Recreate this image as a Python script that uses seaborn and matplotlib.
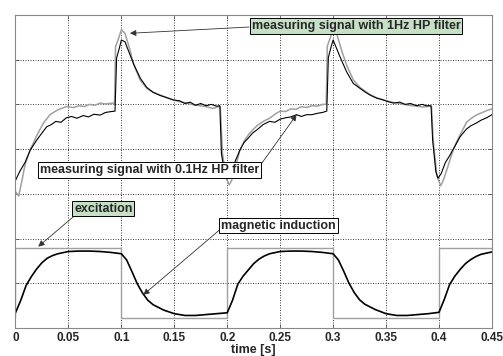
import matplotlib
matplotlib.use("Agg")
import matplotlib.pyplot as plt
import seaborn as sns
import pandas as pd

# ---------------- data ----------------
# excitation (square wave)
exc_t = [0.0, 0.0, 0.1, 0.1, 0.2, 0.2, 0.3, 0.3, 0.4, 0.4, 0.45]
exc_v = [0.23, 1.78, 1.78, 0.23, 0.23, 1.78, 1.78, 0.23, 0.23, 1.78, 1.78]

# magnetic induction
ind_t = [0.000, 0.005, 0.010, 0.015, 0.020, 0.025, 0.030, 0.035, 0.040, 0.050,
         0.060, 0.070, 0.080, 0.090, 0.100, 0.105, 0.110, 0.115, 0.120, 0.125,
         0.130, 0.140, 0.150, 0.160, 0.170, 0.180, 0.190, 0.200,
         0.205, 0.210, 0.215, 0.220, 0.225, 0.230, 0.235, 0.240, 0.250,
         0.260, 0.270, 0.280, 0.290, 0.300, 0.305, 0.310, 0.315, 0.320, 0.325,
         0.330, 0.340, 0.350, 0.360, 0.370, 0.380, 0.390, 0.400,
         0.405, 0.410, 0.415, 0.420, 0.425, 0.430, 0.435, 0.440, 0.450]
ind_v = [0.34, 0.62, 0.95, 1.15, 1.32, 1.46, 1.56, 1.62, 1.66, 1.71,
         1.72, 1.72, 1.71, 1.69, 1.66, 1.52, 1.26, 0.99, 0.78, 0.62,
         0.52, 0.40, 0.32, 0.28, 0.28, 0.30, 0.32, 0.34,
         0.62, 0.98, 1.16, 1.30, 1.44, 1.54, 1.61, 1.66, 1.71,
         1.72, 1.72, 1.71, 1.69, 1.66, 1.52, 1.27, 1.00, 0.79, 0.63,
         0.53, 0.41, 0.32, 0.28, 0.28, 0.30, 0.32, 0.35,
         0.64, 0.97, 1.16, 1.31, 1.44, 1.53, 1.60, 1.65, 1.70]

# measuring signal with 1Hz HP filter (grey)
hp1_t = [0.000, 0.003, 0.006, 0.009, 0.0137, 0.0168, 0.020, 0.0263, 0.0326, 0.040,
         0.048, 0.055, 0.060, 0.065, 0.070, 0.075, 0.080, 0.085, 0.092, 0.0935,
         0.0945, 0.097, 0.100, 0.1034, 0.1081, 0.1112, 0.1176, 0.1239, 0.1300, 0.1365,
         0.1430, 0.149, 0.155, 0.1617, 0.168, 0.1742, 0.180, 0.1868, 0.1915, 0.1935,
         0.1955, 0.199, 0.2019, 0.2045, 0.208, 0.212, 0.216, 0.220, 0.224, 0.228,
         0.234, 0.240, 0.245, 0.250, 0.255, 0.260, 0.265, 0.270, 0.275, 0.280,
         0.285, 0.290, 0.2935, 0.2945, 0.297, 0.300, 0.3034, 0.3081, 0.3127, 0.319,
         0.3253, 0.3300, 0.3348, 0.341, 0.3473, 0.355, 0.363, 0.371, 0.379, 0.385,
         0.3915, 0.393, 0.3945, 0.398, 0.4015, 0.404, 0.408, 0.413, 0.417, 0.420,
         0.426, 0.430, 0.435, 0.440, 0.445, 0.450]
hp1_v = [3.05, 2.95, 3.28, 3.65, 3.98, 4.13, 4.30, 4.58, 4.77, 4.88,
         4.95, 4.93, 4.97, 4.95, 5.00, 4.98, 5.03, 5.01, 5.03, 5.00,
         6.29, 6.45, 6.67, 6.59, 6.22, 5.92, 5.55, 5.36, 5.27, 5.21,
         5.15, 5.10, 5.06, 5.03, 4.99, 4.97, 4.95, 4.91, 4.95, 4.94,
         3.90, 3.35, 3.20, 3.32, 3.62, 3.98, 4.18, 4.32, 4.43, 4.52,
         4.62, 4.69, 4.78, 4.85, 4.84, 4.90, 4.89, 4.95, 4.93, 4.97,
         4.96, 5.00, 5.00, 6.30, 6.47, 6.67, 6.58, 6.20, 5.88, 5.55,
         5.38, 5.30, 5.22, 5.15, 5.10, 5.05, 5.02, 4.98, 4.96, 4.94,
         4.96, 4.94, 4.20, 3.40, 3.18, 3.30, 3.58, 3.95, 4.18, 4.32,
         4.60, 4.68, 4.76, 4.81, 4.86, 4.90]

# measuring signal with 0.1Hz HP filter (black)
hp01_t = [0.000, 0.004, 0.009, 0.014, 0.020, 0.025, 0.0295, 0.034, 0.038, 0.043,
          0.048, 0.053, 0.058, 0.064, 0.069, 0.074, 0.080, 0.085, 0.0906, 0.094,
          0.0955, 0.098, 0.100, 0.1034, 0.108, 0.112, 0.118, 0.124, 0.130, 0.1365,
          0.143, 0.149, 0.155, 0.160, 0.165, 0.170, 0.175, 0.180, 0.185, 0.190,
          0.193, 0.1945, 0.198, 0.200, 0.203, 0.207, 0.212, 0.216, 0.220, 0.224,
          0.228, 0.234, 0.240, 0.245, 0.250, 0.255, 0.260, 0.2655, 0.270, 0.275,
          0.280, 0.285, 0.290, 0.294, 0.2955, 0.298, 0.300, 0.3064, 0.3127, 0.319,
          0.3253, 0.3300, 0.3348, 0.341, 0.3473, 0.352, 0.357, 0.363, 0.368, 0.373,
          0.379, 0.384, 0.388, 0.3925, 0.394, 0.397, 0.399, 0.402, 0.406, 0.410,
          0.413, 0.417, 0.420, 0.426, 0.430, 0.435, 0.440, 0.445, 0.450]
hp01_v = [3.30, 3.50, 3.70, 3.98, 4.20, 4.36, 4.50, 4.55, 4.62, 4.60,
          4.70, 4.73, 4.69, 4.75, 4.72, 4.78, 4.76, 4.82, 4.84, 4.85,
          6.04, 6.25, 6.44, 6.40, 6.12, 5.88, 5.58, 5.38, 5.27, 5.20,
          5.15, 5.10, 5.08, 5.02, 5.05, 4.98, 5.02, 4.97, 5.00, 4.96,
          4.97, 3.90, 3.40, 3.33, 3.45, 3.70, 3.98, 4.15, 4.25, 4.36,
          4.43, 4.55, 4.62, 4.60, 4.67, 4.70, 4.72, 4.77, 4.73, 4.77,
          4.77, 4.80, 4.82, 4.85, 6.05, 6.28, 6.44, 6.07, 5.73, 5.47,
          5.36, 5.28, 5.21, 5.14, 5.10, 5.06, 5.03, 5.05, 5.00, 5.02,
          4.97, 5.00, 4.97, 4.97, 4.20, 3.50, 3.35, 3.45, 3.70, 3.85,
          3.98, 4.15, 4.28, 4.45, 4.52, 4.58, 4.65, 4.70, 4.77]

x_ticks = [0, 0.05, 0.1, 0.15, 0.2, 0.25, 0.3, 0.35, 0.4, 0.45]
x_tick_labels = ["0", "0.05", "0.1", "0.15", "0.2", "0.25", "0.3", "0.35", "0.4", "0.45"]

# ---------------- figure ----------------
sns.set_theme(style="white")
plt.rcParams['font.family'] = ['Liberation Sans', 'DejaVu Sans']

fig = plt.figure(figsize=(5.03, 3.56), dpi=100)
ax = fig.add_axes([0.0308, 0.0787, 0.978 - 0.0308, 0.958 - 0.0787])

grey = "#a0a0a0"
df_exc = pd.DataFrame({"t": exc_t, "v": exc_v})
df_ind = pd.DataFrame({"t": ind_t, "v": ind_v})
df_hp1 = pd.DataFrame({"t": hp1_t, "v": hp1_v})
df_hp01 = pd.DataFrame({"t": hp01_t, "v": hp01_v})

sns.lineplot(data=df_exc, x="t", y="v", ax=ax, color=grey, lw=1.0, sort=False, estimator=None)
sns.lineplot(data=df_ind, x="t", y="v", ax=ax, color="black", lw=1.2, sort=False, estimator=None)
sns.lineplot(data=df_hp1, x="t", y="v", ax=ax, color=grey, lw=1.1, sort=False, estimator=None)
sns.lineplot(data=df_hp01, x="t", y="v", ax=ax, color="black", lw=0.8, sort=False, estimator=None)

ax.set_xlim(0, 0.45)
ax.set_ylim(0, 7)
ax.set_xticks(x_ticks)
ax.set_xticklabels(x_tick_labels, fontsize=8.5, fontweight="bold")
ax.set_yticks(range(0, 8))
ax.set_yticklabels([])
ax.set_xlabel("time [s]", fontsize=9, fontweight="bold", labelpad=0)
ax.set_ylabel("")
ax.grid(True, linestyle=(0, (1.2, 1.8)), color="#222222", lw=0.6)
ax.tick_params(direction="in", length=3, width=0.6, color="#555555", pad=3,
               top=True, right=True, bottom=True, left=True)
for s in ax.spines.values():
    s.set_color("#888888")
    s.set_linewidth(0.8)

green = "#c6e0c6"
arrow_kw = dict(arrowstyle="-|>", color="#333333", lw=0.6, mutation_scale=9, shrinkA=0, shrinkB=0)

def label(txt, x, y, face):
    ax.text(x, y, txt, fontsize=9, fontweight="bold", ha="center", va="center", zorder=6,
            bbox=dict(boxstyle="square,pad=0.15", fc=face, ec="black", lw=0.7))

# arrows
ax.annotate("", xy=(0.1081, 6.59), xytext=(0.2207, 6.73), arrowprops=arrow_kw, zorder=5)
ax.annotate("", xy=(0.2655, 4.77), xytext=(0.2328, 3.69), arrowprops=arrow_kw, zorder=5)
ax.annotate("", xy=(0.0215, 1.82), xytext=(0.0543, 2.48), arrowprops=arrow_kw, zorder=5)
ax.annotate("", xy=(0.1207, 0.74), xytext=(0.1926, 2.19), arrowprops=arrow_kw, zorder=5)

label("measuring signal with 1Hz HP filter", 0.3216, 6.745, green)
label("measuring signal with 0.1Hz HP filter", 0.1265, 3.535, "white")
label("excitation", 0.0829, 2.67, green)
label("magnetic induction", 0.2483, 2.29, "white")

fig.savefig("out.png", dpi=100)
